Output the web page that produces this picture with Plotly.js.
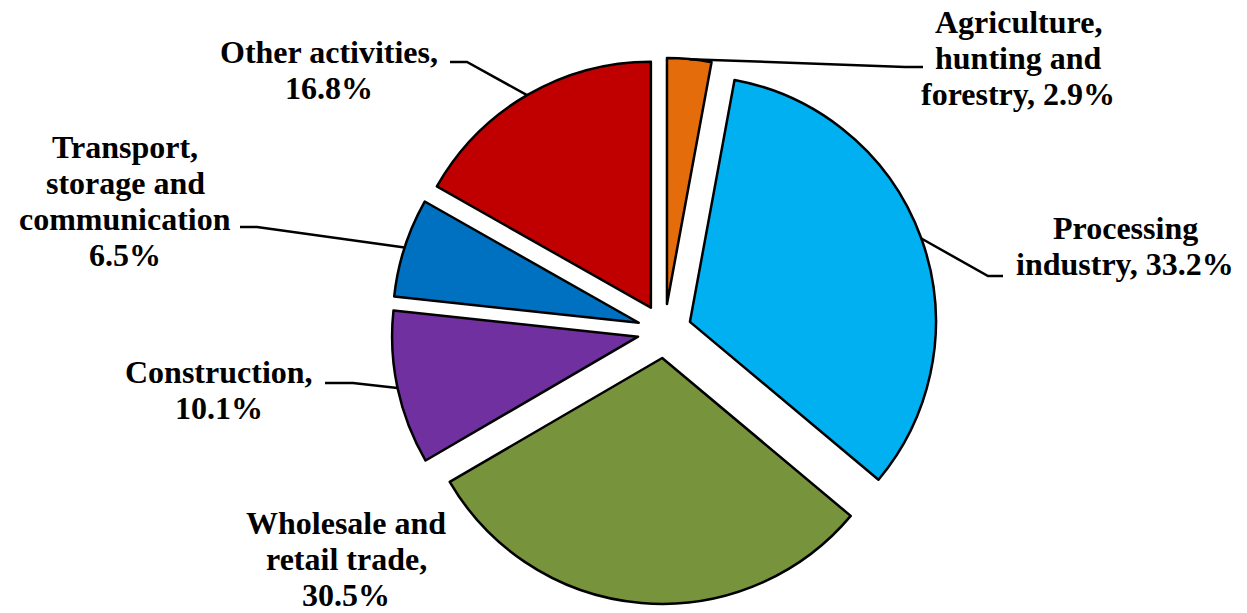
<!DOCTYPE html>
<html>
<head>
<meta charset="utf-8">
<script src="https://cdn.plot.ly/plotly-3.0.1.min.js"></script>
<style>
  html, body { margin: 0; padding: 0; background: #ffffff; }
  #chart { width: 1247px; height: 613px; }
</style>
</head>
<body>
<div id="chart"></div>
<script>
// ---- data ----
const sectors = [
  "Agriculture, hunting and forestry",
  "Processing industry",
  "Wholesale and retail trade",
  "Construction",
  "Transport, storage and communication",
  "Other activities"
];
const shares = [2.9, 33.2, 30.5, 10.1, 6.5, 16.8];
const sliceColors = ["#E46C0A", "#00B0F0", "#77933C", "#7030A0", "#0070C0", "#C00000"];
const labelLines = [
  ["Agriculture,", "hunting and", "forestry, 2.9%"],
  ["Processing", "industry, 33.2%"],
  ["Wholesale and", "retail trade,", "30.5%"],
  ["Construction,", "10.1%"],
  ["Transport,", "storage and", "communication", "6.5%"],
  ["Other activities,", "16.8%"]
];

// ---- layout geometry ----
const W = 1247, Hpage = 613;
const M = {l: 0, r: 0, t: 58, b: 9};
const PW = W - M.l - M.r, PH = Hpage - M.t - M.b;
const domX = [0.23288, 0.83288];
const pull = 0.11;
const cx = M.l + PW * (domX[0] + domX[1]) / 2;
const cy = M.t + PH / 2;
const R = Math.min(PW * (domX[1] - domX[0]) / 2, PH / 2) / (1 + pull);

function toPaper(px, py) { return [(px - M.l) / PW, 1 - (py - M.t) / PH]; }

// label block centres (px) and connector elbows
const labelPos = [[1018, 58], [1125, 246], [346, 559], [219, 390], [125, 201], [329, 70]];
const elbows = [
  [[905, 67], [923, 67]],
  [[988, 276], [1003, 276]],
  null,
  [[353, 383], [325, 383]],
  [[257, 227], [240, 227]],
  [[467, 62], [450, 62]]
];

const total = shares.reduce((a, b) => a + b, 0);
const annotations = [];
const shapes = [];
let cum = 0;
const lineGap = 36;
shares.forEach((v, i) => {
  const mid = (cum + v / 2) / total * 2 * Math.PI; // clockwise from 12 o'clock
  cum += v;
  const lines = labelLines[i];
  const [lx, ly] = labelPos[i];
  lines.forEach((t, k) => {
    const py = ly + (k - (lines.length - 1) / 2) * lineGap;
    const p = toPaper(lx, py);
    annotations.push({
      xref: "paper", yref: "paper", x: p[0], y: p[1],
      xanchor: "center", yanchor: "middle", showarrow: false,
      text: t,
      font: {family: "Liberation Serif, Times New Roman, serif", size: 32, color: "#000000", weight: "bold"}
    });
  });
  if (elbows[i]) {
    const ax = cx + R * (1 + pull) * Math.sin(mid);
    const ay = cy - R * (1 + pull) * Math.cos(mid);
    const pts = [[ax, ay]].concat(elbows[i]).map(q => toPaper(q[0], q[1]));
    const d = "M " + pts.map(q => q[0] + "," + q[1]).join(" L ");
    shapes.push({type: "path", xref: "paper", yref: "paper", path: d,
      line: {color: "#000000", width: 2.5}});
  }
});

const trace = {
  type: "pie",
  labels: sectors,
  values: shares,
  sort: false,
  direction: "clockwise",
  rotation: 0,
  pull: shares.map(() => pull),
  textinfo: "none",
  hoverinfo: "label+percent",
  marker: {colors: sliceColors, line: {color: "#000000", width: 2.5}},
  domain: {x: domX, y: [0, 1]},
  showlegend: false
};

const layout = {
  width: W, height: Hpage,
  margin: M,
  paper_bgcolor: "#ffffff",
  plot_bgcolor: "#ffffff",
  showlegend: false,
  annotations: annotations,
  shapes: shapes
};

Plotly.newPlot("chart", [trace], layout, {displayModeBar: false, staticPlot: true});
</script>
</body>
</html>
